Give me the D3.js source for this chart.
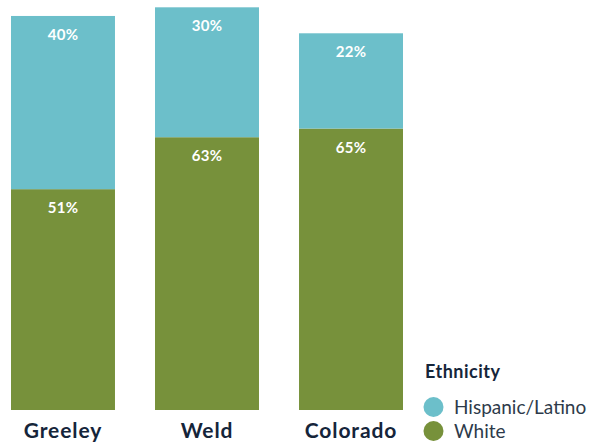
<!DOCTYPE html>
<html><head><meta charset="utf-8">
<script src="https://cdn.jsdelivr.net/npm/d3@7"></script>
<style>body{margin:0;background:#fff}svg{display:block}</style>
</head><body>
<svg id="c" width="591" height="443"></svg>
<script>
const categories = ["Greeley", "Weld", "Colorado"];
const white = [51, 63, 65];
const hispanic = [40, 30, 22];
const seriesNames = ["Hispanic/Latino", "White"];
const colors = {"Hispanic/Latino": "#6cbfca", "White": "#77913b"};

const svg = d3.select("#c");
const x = d3.scaleBand().domain(categories).range([11, 403]).paddingInner(0.278).paddingOuter(0);
const y = d3.scaleLinear().domain([0, 100]).range([410, -23]);

const data = categories.map((c, i) => ({cat: c, White: white[i], "Hispanic/Latino": hispanic[i]}));
const stack = d3.stack().keys(["White", "Hispanic/Latino"])(data);

const g = svg.append("g");
stack.forEach(layer => {
  const key = layer.key;
  layer.forEach(d => {
    g.append("rect")
      .attr("x", x(d.data.cat))
      .attr("width", x.bandwidth())
      .attr("y", y(d[1]))
      .attr("height", y(d[0]) - y(d[1]))
      .attr("fill", colors[key]);
    g.append("text")
      .attr("x", x(d.data.cat) + x.bandwidth() / 2)
      .attr("y", y(d[1]) + 24)
      .attr("text-anchor", "middle")
      .attr("fill", "#fff")
      .attr("font-family", "Lato, sans-serif")
      .attr("font-weight", "bold")
      .attr("font-size", 15)
      .attr("letter-spacing", 0.3)
      .text(d.data[key] + "%");
  });
});

const xAxis = d3.axisBottom(x).tickSize(0).tickPadding(0);
const ax = svg.append("g").attr("transform", "translate(0,438)").call(xAxis);
ax.select(".domain").remove();
ax.selectAll("text")
  .attr("dy", 0)
  .attr("y", 0)
  .attr("fill", "#15253a")
  .attr("font-family", "Lato, sans-serif")
  .attr("font-weight", "bold")
  .attr("font-size", 21)
  .attr("letter-spacing", 0.9);

const leg = svg.append("g").attr("transform", "translate(425,0)");
leg.append("text").attr("x", 0).attr("y", 378)
  .attr("fill", "#15253a").attr("font-family", "Lato, sans-serif")
  .attr("font-weight", "bold").attr("font-size", 18).attr("letter-spacing", 0.5).text("Ethnicity");
seriesNames.forEach((s, i) => {
  const yy = 407 + i * 24;
  leg.append("circle").attr("cx", 8.5).attr("cy", yy).attr("r", 10).attr("fill", colors[s]);
  leg.append("text").attr("x", 29).attr("y", yy + 7)
    .attr("fill", "#2d3a4a").attr("font-family", "Lato, sans-serif")
    .attr("font-size", 19).text(s);
});
</script>
</body></html>
